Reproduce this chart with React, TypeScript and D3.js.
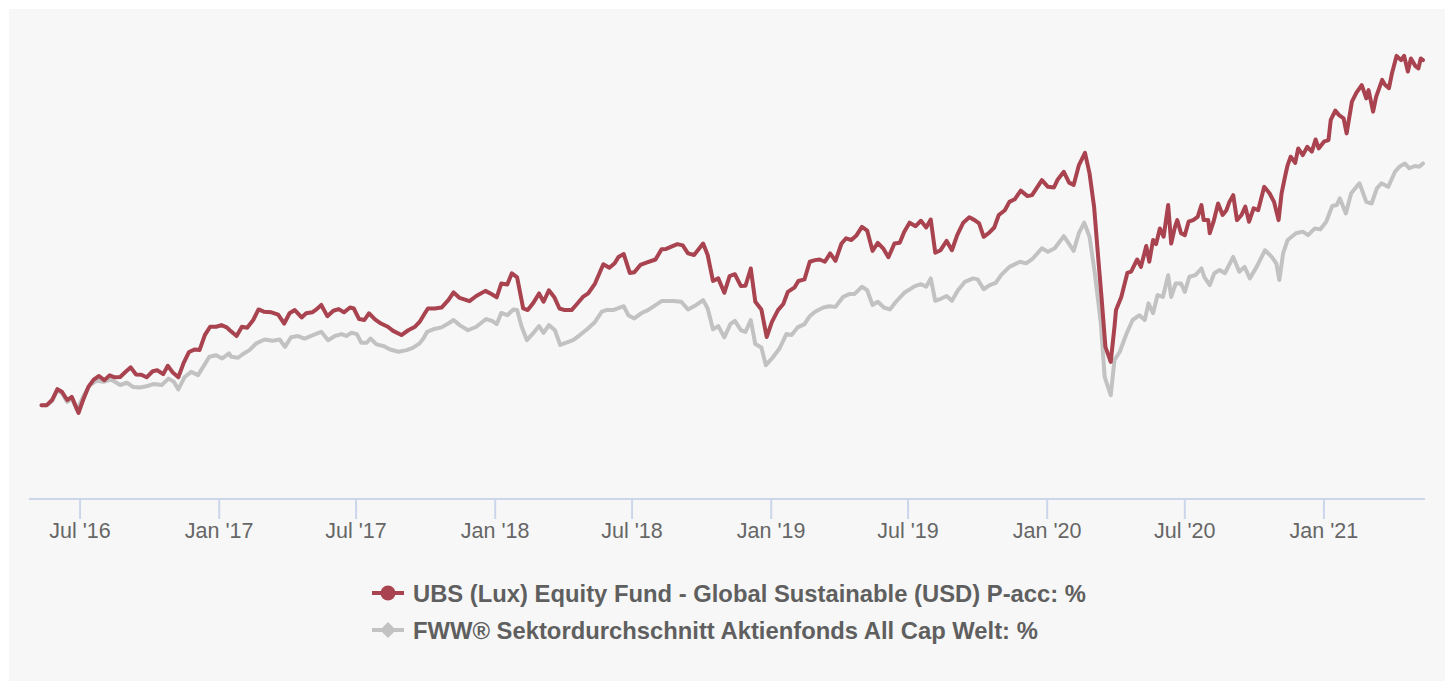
import React from "react";
import * as d3 from "d3";

const fundName = "UBS (Lux) Equity Fund - Global Sustainable (USD) P-acc: %";
const avgName = "FWW® Sektordurchschnitt Aktienfonds All Cap Welt: %";

const fundDates = [
  "2016-05-11","2016-05-18","2016-05-25","2016-06-01","2016-06-07","2016-06-14","2016-06-20","2016-06-29","2016-07-05","2016-07-12",
  "2016-07-19","2016-07-26","2016-08-02","2016-08-09","2016-08-16","2016-08-23","2016-08-31","2016-09-06","2016-09-13","2016-09-20",
  "2016-09-27","2016-10-05","2016-10-11","2016-10-19","2016-10-25","2016-11-01","2016-11-08","2016-11-15","2016-11-22","2016-11-30",
  "2016-12-06","2016-12-13","2016-12-20","2016-12-28","2017-01-04","2017-01-11","2017-01-15","2017-01-24","2017-01-31","2017-02-07",
  "2017-02-15","2017-02-22","2017-03-01","2017-03-11","2017-03-20","2017-03-28","2017-04-04","2017-04-11","2017-04-20","2017-04-26",
  "2017-05-04","2017-05-10","2017-05-16","2017-05-24","2017-06-01","2017-06-08","2017-06-15","2017-06-23","2017-06-28","2017-07-05",
  "2017-07-12","2017-07-18","2017-07-26","2017-08-03","2017-08-12","2017-08-19","2017-08-30","2017-09-08","2017-09-17","2017-09-23",
  "2017-09-30","2017-10-04","2017-10-13","2017-10-22","2017-10-31","2017-11-07","2017-11-15","2017-11-28","2017-12-07","2017-12-19",
  "2017-12-27","2018-01-03","2018-01-09","2018-01-17","2018-01-23","2018-01-30","2018-02-07","2018-02-13","2018-02-20","2018-02-28",
  "2018-03-06","2018-03-13","2018-03-20","2018-03-27","2018-04-03","2018-04-12","2018-04-18","2018-04-27","2018-05-04","2018-05-13",
  "2018-05-24","2018-06-01","2018-06-08","2018-06-13","2018-06-20","2018-06-28","2018-07-04","2018-07-12","2018-07-20","2018-08-01",
  "2018-08-09","2018-08-15","2018-08-22","2018-08-30","2018-09-06","2018-09-13","2018-09-21","2018-10-03","2018-10-09","2018-10-16",
  "2018-10-23","2018-10-31","2018-11-07","2018-11-14","2018-11-22","2018-11-28","2018-12-05","2018-12-11","2018-12-19","2018-12-26",
  "2019-01-02","2019-01-10","2019-01-17","2019-01-23","2019-02-01","2019-02-06","2019-02-14","2019-02-21","2019-02-28","2019-03-06",
  "2019-03-13","2019-03-20","2019-03-27","2019-04-04","2019-04-10","2019-04-17","2019-04-24","2019-05-01","2019-05-08","2019-05-15",
  "2019-05-22","2019-05-29","2019-06-05","2019-06-13","2019-06-20","2019-06-26","2019-07-03","2019-07-11","2019-07-18","2019-07-25",
  "2019-07-31","2019-08-06","2019-08-13","2019-08-21","2019-08-28","2019-09-04","2019-09-12","2019-09-20","2019-09-27","2019-10-03",
  "2019-10-09","2019-10-16","2019-10-23","2019-10-29","2019-11-06","2019-11-12","2019-11-19","2019-11-27","2019-12-06","2019-12-12",
  "2019-12-25","2020-01-02","2020-01-10","2020-01-15","2020-01-23","2020-01-30","2020-02-05","2020-02-12","2020-02-20","2020-02-26",
  "2020-03-03","2020-03-08","2020-03-13","2020-03-18","2020-03-25","2020-03-30","2020-04-01","2020-04-08","2020-04-16","2020-04-21",
  "2020-04-29","2020-05-04","2020-05-11","2020-05-15","2020-05-20","2020-05-24","2020-05-29","2020-06-03","2020-06-09","2020-06-13",
  "2020-06-18","2020-06-21","2020-06-26","2020-07-01","2020-07-06","2020-07-12","2020-07-18","2020-07-23","2020-07-26","2020-08-01",
  "2020-08-03","2020-08-08","2020-08-14","2020-08-20","2020-08-25","2020-08-29","2020-09-03","2020-09-08","2020-09-14","2020-09-19",
  "2020-09-24","2020-09-30","2020-10-06","2020-10-14","2020-10-21","2020-10-27","2020-11-02","2020-11-06","2020-11-11","2020-11-14",
  "2020-11-18","2020-11-24","2020-11-28","2020-12-04","2020-12-10","2020-12-16","2020-12-21","2020-12-25","2021-01-01","2021-01-07",
  "2021-01-10","2021-01-16","2021-01-21","2021-01-27","2021-01-31","2021-02-07","2021-02-13","2021-02-20","2021-02-26","2021-03-01",
  "2021-03-07","2021-03-11","2021-03-19","2021-03-23","2021-03-28","2021-04-01","2021-04-07","2021-04-13","2021-04-17","2021-04-22",
  "2021-04-26","2021-05-02","2021-05-06","2021-05-09","2021-05-12"
];
const fundValues = [
  0,0,1.6,5.0,4.2,1.6,2.6,-2.4,1.6,5.7,
  8.0,9.1,7.8,9.3,8.7,8.8,10.6,11.8,9.6,9.5,
  8.7,10.6,10.9,9.7,12.3,10.1,8.7,13.2,16.6,17.4,
  17.2,21.9,24.5,24.5,25.0,24.3,23.4,21.6,24.5,24.2,
  26.6,29.9,29.2,29.0,28.3,25.5,28.7,29.7,27.4,28.7,
  29.0,30.0,31.3,27.8,29.5,30.0,29.0,30.5,30.2,26.9,
  26.6,28.7,26.8,25.5,24.5,23.2,21.9,23.4,24.5,26.0,
  28.7,30.2,30.2,30.5,32.8,35.2,33.5,32.5,34.1,35.7,
  34.7,33.7,38.0,37.7,41.2,39.9,30.2,29.7,31.8,34.9,
  32.3,35.9,33.8,30.2,29.7,29.7,31.3,33.8,34.9,38.0,
  44.0,42.9,44.3,46.3,47.2,41.3,41.5,43.8,44.5,45.5,
  48.7,48.8,49.5,50.3,49.9,47.4,46.9,50.5,46.9,38.8,
  39.6,35.1,40.3,40.9,37.2,37.3,42.7,32.3,29.9,21.3,
  26.0,29.7,31.6,35.4,36.8,38.8,39.3,44.8,45.3,45.5,
  44.8,47.4,45.1,50.5,52.1,51.6,53.1,55.7,54.5,48.2,
  50.7,49.0,46.2,50.5,50.7,54.2,57.0,55.9,57.6,55.5,
  58.0,47.6,48.4,51.3,48.4,53.1,57.0,58.7,57.8,56.8,
  52.6,53.8,55.5,59.4,60.9,63.5,64.3,67.0,65.3,65.6,
  70.3,68.2,68.0,70.5,72.9,69.5,68.8,75.0,78.8,72.4,
  62.0,47.4,33.3,18.2,13.5,24.5,29.7,33.8,41.3,41.7,
  45.5,43.2,49.7,44.8,51.6,50.3,55.2,52.6,62.5,50.5,
  55.7,57.8,53.7,53.1,57.3,57.8,58.8,62.5,57.8,57.8,
  53.7,57.3,63.0,59.4,60.9,63.5,65.6,57.8,59.4,62.0,
  57.3,61.5,60.9,68.2,66.2,63.5,57.8,66.2,71.9,75.0,
  77.6,75.7,80.2,78.1,80.7,79.2,83.0,80.2,82.3,82.8,
  89.1,92.0,90.6,89.6,84.9,94.8,97.6,100.0,95.8,98.4,
  91.7,96.3,101.6,100.0,99.0,103.7,109.1,107.8,109.1,104.2,
  108.3,105.9,105.2,108.3,107.8
];

const avgDates = [
  "2016-05-11","2016-05-18","2016-05-25","2016-06-01","2016-06-07","2016-06-14","2016-06-20","2016-06-27","2016-07-05","2016-07-14",
  "2016-07-23","2016-08-01","2016-08-11","2016-08-23","2016-09-01","2016-09-09","2016-09-18","2016-09-27","2016-10-06","2016-10-17",
  "2016-10-26","2016-11-02","2016-11-08","2016-11-16","2016-11-25","2016-12-04","2016-12-13","2016-12-19","2016-12-28","2017-01-05",
  "2017-01-14","2017-01-17","2017-01-26","2017-02-01","2017-02-10","2017-02-19","2017-03-02","2017-03-13","2017-03-22","2017-03-29",
  "2017-04-06","2017-04-15","2017-04-24","2017-05-05","2017-05-16","2017-05-25","2017-06-03","2017-06-12","2017-06-18","2017-06-25",
  "2017-07-02","2017-07-08","2017-07-15","2017-07-20","2017-07-28","2017-08-07","2017-08-15","2017-08-26","2017-09-06","2017-09-14",
  "2017-09-23","2017-09-28","2017-10-03","2017-10-11","2017-10-22","2017-10-31","2017-11-07","2017-11-15","2017-11-26","2017-12-07",
  "2017-12-20","2017-12-28","2018-01-03","2018-01-09","2018-01-17","2018-01-25","2018-01-30","2018-02-05","2018-02-12","2018-02-20",
  "2018-02-28","2018-03-06","2018-03-13","2018-03-21","2018-03-28","2018-04-05","2018-04-14","2018-04-23","2018-05-04","2018-05-13",
  "2018-05-22","2018-05-28","2018-06-06","2018-06-20","2018-06-26","2018-07-04","2018-07-13","2018-07-22","2018-08-09","2018-08-24",
  "2018-09-04","2018-09-13","2018-09-24","2018-10-03","2018-10-09","2018-10-16","2018-10-23","2018-10-31","2018-11-08","2018-11-14",
  "2018-11-22","2018-11-28","2018-12-05","2018-12-11","2018-12-19","2018-12-25","2019-01-03","2019-01-12","2019-01-21","2019-01-28",
  "2019-02-05","2019-02-14","2019-02-21","2019-02-28","2019-03-11","2019-03-19","2019-03-27","2019-04-06","2019-04-14","2019-04-21",
  "2019-05-01","2019-05-08","2019-05-15","2019-05-22","2019-05-30","2019-06-07","2019-06-15","2019-06-26","2019-07-10","2019-07-18",
  "2019-07-25","2019-07-31","2019-08-06","2019-08-14","2019-08-21","2019-08-28","2019-09-05","2019-09-14","2019-09-25","2019-10-01",
  "2019-10-09","2019-10-17","2019-10-25","2019-11-01","2019-11-12","2019-11-26","2019-12-04","2019-12-13","2019-12-25","2020-01-02",
  "2020-01-11","2020-01-23","2020-01-31","2020-02-05","2020-02-12","2020-02-19","2020-02-26","2020-03-04","2020-03-12","2020-03-17",
  "2020-03-25","2020-03-30","2020-04-06","2020-04-15","2020-04-23","2020-05-02","2020-05-09","2020-05-14","2020-05-20","2020-05-26",
  "2020-06-02","2020-06-09","2020-06-13","2020-06-19","2020-06-26","2020-07-01","2020-07-07","2020-07-15","2020-07-23","2020-07-27",
  "2020-08-03","2020-08-09","2020-08-16","2020-08-23","2020-09-03","2020-09-11","2020-09-18","2020-09-25","2020-10-04","2020-10-15",
  "2020-10-24","2020-10-30","2020-11-03","2020-11-08","2020-11-14","2020-11-25","2020-12-04","2020-12-11","2020-12-20","2020-12-27",
  "2021-01-04","2021-01-12","2021-01-18","2021-01-22","2021-01-30","2021-02-06","2021-02-17","2021-02-26","2021-03-05","2021-03-12",
  "2021-03-18","2021-03-27","2021-04-05","2021-04-11","2021-04-18","2021-04-24","2021-05-01","2021-05-07","2021-05-12"
];
const avgValues = [
  0,0,1.3,4.7,3.7,1.0,2.2,-1.6,2.6,6.3,
  7.6,7.3,8.0,6.3,7.0,5.7,5.5,5.9,6.6,6.3,
  8.3,7.3,4.9,8.7,10.4,9.4,12.8,15.1,15.6,14.6,
  16.2,15.1,14.8,15.9,17.2,19.3,20.5,20.1,20.5,18.2,
  21.2,21.6,20.8,21.9,22.9,20.3,21.6,22.2,21.6,22.6,
  22.2,19.5,19.5,20.8,19.0,18.4,17.4,16.7,17.2,17.9,
  19.3,20.8,22.9,23.7,24.3,25.5,26.6,25.0,23.4,24.5,
  26.9,26.3,25.3,28.8,28.1,29.9,29.7,24.5,20.3,22.4,
  24.7,22.6,25.0,23.4,18.8,19.5,20.3,21.9,24.0,26.0,
  29.2,29.7,29.7,30.9,28.1,27.1,28.7,29.7,32.5,32.5,
  32.3,29.9,31.3,32.8,30.2,23.7,24.7,21.2,25.3,26.3,
  23.4,22.9,26.6,19.1,18.0,12.5,14.9,17.7,22.2,21.9,
  24.3,25.3,27.8,29.2,30.5,30.9,30.7,33.8,34.7,34.7,
  37.0,35.9,31.3,32.3,30.5,29.9,32.3,35.1,37.2,37.8,
  37.0,39.6,32.6,33.3,34.1,32.6,35.9,38.5,39.6,39.3,
  36.2,37.5,38.2,40.6,43.2,44.8,44.3,45.8,49.0,47.9,
  49.0,52.8,50.0,48.2,53.8,57.0,52.6,41.2,25.5,8.8,
  3.1,14.1,16.7,22.4,26.6,28.1,26.6,31.8,28.7,34.4,
  33.8,40.6,33.8,38.0,38.0,35.4,40.1,40.6,42.7,39.9,
  37.5,41.2,42.2,41.2,46.3,41.7,43.2,39.6,43.2,48.4,
  46.3,44.3,39.1,47.4,51.6,53.7,54.2,53.1,55.2,54.9,
  57.3,62.2,62.5,64.6,59.9,66.2,69.3,63.5,63.0,67.7,
  69.3,68.2,72.9,74.5,75.5,74.0,74.7,74.5,75.5
];

const yDomain = [-29, 120];

const FUND_COLOR = "#a8434f";
const AVG_COLOR = "#c2c2c2";
const FONT = "'Liberation Sans', Arial, Helvetica, sans-serif";

export default function App() {
  const parse = d3.utcParse("%Y-%m-%d");
  const fund = fundDates.map((d, i) => ({ date: parse(d) as Date, value: fundValues[i] }));
  const avg = avgDates.map((d, i) => ({ date: parse(d) as Date, value: avgValues[i] }));
  const allDates = [...fund, ...avg].map((p) => p.date);

  const plotLeft = 29;
  const plotRight = 1425;
  const axisY = 499;

  const x = d3.scaleUtc().domain(d3.extent(allDates) as [Date, Date]).range([41.5, 1423]);
  const y = d3.scaleLinear().domain(yDomain).range([axisY - 1, 21]);

  const line = d3
    .line<{ date: Date; value: number }>()
    .x((d) => x(d.date))
    .y((d) => y(d.value));

  const ticks = x.ticks(d3.utcMonth.every(6) as any);
  const fmt = d3.utcFormat("%b '%y");

  const legendX = 372;
  const legendRows = [
    { name: fundName, color: FUND_COLOR, y: 593, marker: "circle" },
    { name: avgName, color: AVG_COLOR, y: 630, marker: "diamond" },
  ];

  return (
    <svg
      width={1451}
      height={682}
      style={{ position: "absolute", left: 0, top: 0, display: "block" }}
    >
      <rect x={0} y={0} width={1451} height={682} fill="#ffffff" />
      <rect x={9} y={9} width={1436} height={672} fill="#f7f7f7" />

      <line x1={plotLeft} x2={plotRight} y1={axisY} y2={axisY} stroke="#ccd6eb" strokeWidth={2} />
      {ticks.map((t, i) => (
        <g key={i}>
          <line x1={x(t)} x2={x(t)} y1={axisY} y2={axisY + 20} stroke="#ccd6eb" strokeWidth={2} />
          <text
            x={x(t)}
            y={538}
            textAnchor="middle"
            fontFamily={FONT}
            fontSize={21.5}
            fill="#666666"
          >
            {fmt(t)}
          </text>
        </g>
      ))}

      <path
        d={line(avg) || ""}
        fill="none"
        stroke={AVG_COLOR}
        strokeWidth={4}
        strokeLinejoin="round"
        strokeLinecap="round"
      />
      <path
        d={line(fund) || ""}
        fill="none"
        stroke={FUND_COLOR}
        strokeWidth={4}
        strokeLinejoin="round"
        strokeLinecap="round"
      />

      {legendRows.map((r, i) => (
        <g key={i}>
          <line x1={legendX} x2={legendX + 32} y1={r.y} y2={r.y} stroke={r.color} strokeWidth={4} />
          {r.marker === "circle" ? (
            <circle cx={legendX + 16} cy={r.y} r={7.5} fill={r.color} />
          ) : (
            <path
              d={`M${legendX + 16},${r.y - 8}L${legendX + 24},${r.y}L${legendX + 16},${r.y + 8}L${legendX + 8},${r.y}Z`}
              fill={r.color}
            />
          )}
          <text
            x={legendX + 41}
            y={r.y + 8.5}
            fontFamily={FONT}
            fontSize={23.8}
            fontWeight="bold"
            fill="#5f5f5f"
          >
            {r.name}
          </text>
        </g>
      ))}
    </svg>
  );
}
